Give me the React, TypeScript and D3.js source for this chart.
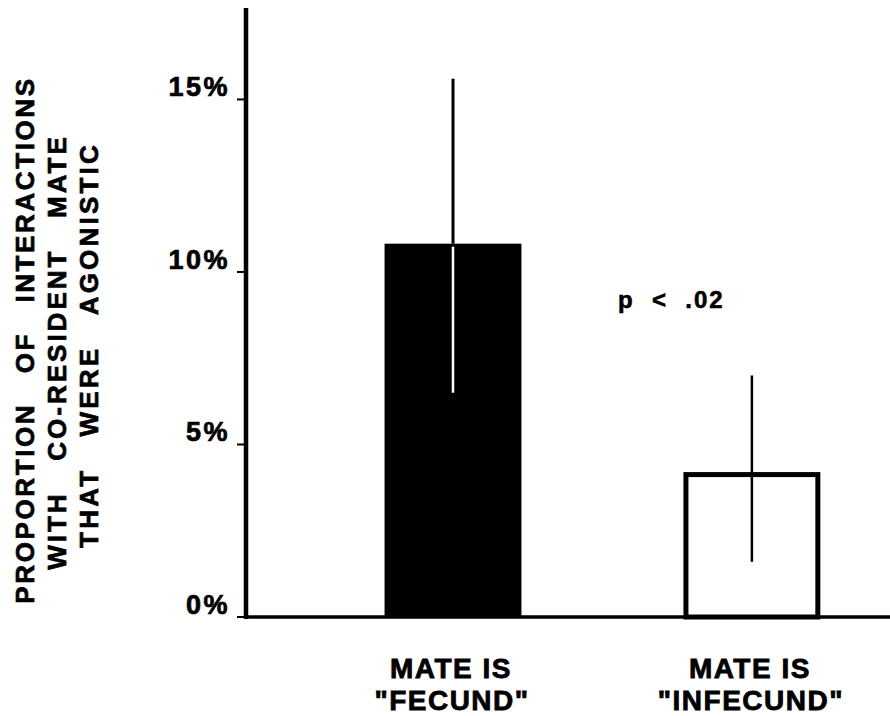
import * as d3 from 'd3';
import React from 'react';

const categories = ['fecund', 'infecund'];
const values = [10.82, 4.2];
const errHigh = [15.6, 7.0];
const errLow = [6.5, 1.6];
const labelTop = ['MATE IS', 'MATE IS'];
const labelBottom = ['"FECUND"', '"INFECUND"'];
const yTicks = [0, 5, 10, 15];
const yTitle = ['PROPORTION   OF   INTERACTIONS', 'WITH   CO-RESIDENT   MATE', 'THAT   WERE   AGONISTIC'];
const note = 'p  <  .02';

const W = 890;
const H = 716;
const font = '"Liberation Sans", Arial, Helvetica, sans-serif';

export default function App() {
    const y = d3.scaleLinear().domain([0, 17.65]).range([617, 8]);
    const x = d3.scaleBand()
        .domain(categories)
        .range([245, 890])
        .paddingInner(0.542)
        .paddingOuter(0.35)
        .align(0.667);
    const bw = x.bandwidth();
    const axisX = 246;
    // small shifts so the three title lines sit like the original
    const titleCy = [340, 352, 345];
    const titleLs = [2.6, 3, 3.2];

    return (
        <svg width={W} height={H} style={{ position: 'absolute', left: 0, top: 0, background: '#fff' }}
            fontFamily={font} fontWeight="bold" stroke="#000" strokeWidth={0}>
            {/* y title */}
            {yTitle.map((t, i) => (
                <text key={t} transform={`translate(${34 + i * 32},${titleCy[i]}) rotate(-90)`}
                    textAnchor="middle" fontSize={26} letterSpacing={titleLs[i]} strokeWidth={0.7}
                    style={{ whiteSpace: 'pre' }}>{t}</text>
            ))}

            {/* y ticks */}
            {yTicks.map(t => (
                <g key={t}>
                    <line x1={axisX - 9} x2={axisX} y1={y(t)} y2={y(t)} stroke="#000" strokeWidth={2} />
                    <text x={axisX - 16} y={y(t) - 3} textAnchor="end" fontSize={27} letterSpacing={2.5}
                        strokeWidth={0.7}>{t}%</text>
                </g>
            ))}

            {/* bars */}
            {categories.map((c, i) => {
                const x0 = x(c) as number;
                const filled = i === 0;
                return (
                    <rect key={c}
                        x={filled ? x0 : x0 + 2.5}
                        y={filled ? y(values[i]) : y(values[i]) + 2.5}
                        width={filled ? bw : bw - 5}
                        height={filled ? y(0) - y(values[i]) : y(0) - y(values[i]) - 2.5}
                        fill={filled ? '#000' : '#fff'}
                        stroke="#000" strokeWidth={filled ? 0 : 5} />
                );
            })}

            {/* error bars */}
            {categories.map((c, i) => {
                const cx = (x(c) as number) + bw / 2;
                const filled = i === 0;
                if (filled) {
                    return (
                        <g key={c}>
                            <line x1={cx} x2={cx} y1={y(errHigh[i])} y2={y(values[i])} stroke="#000" strokeWidth={3} />
                            <line x1={cx} x2={cx} y1={y(values[i]) + 3} y2={y(errLow[i])} stroke="#fff" strokeWidth={2.5} />
                        </g>
                    );
                }
                return (
                    <line key={c} x1={cx} x2={cx} y1={y(errHigh[i])} y2={y(errLow[i])} stroke="#000" strokeWidth={2.5} />
                );
            })}

            {/* axes */}
            <line x1={axisX} x2={axisX} y1={y.range()[1]} y2={y(0) + 2} stroke="#000" strokeWidth={4.5} />
            <line x1={axisX - 2} x2={W} y1={y(0)} y2={y(0)} stroke="#000" strokeWidth={3.5} />

            {/* category labels */}
            {categories.map((c, i) => {
                const cx = (x(c) as number) + bw / 2;
                return (
                    <g key={c} fontSize={28} textAnchor="middle" letterSpacing={1.5} strokeWidth={0.8}>
                        <text x={cx - 2} y={678}>{labelTop[i]}</text>
                        <text x={cx - 1} y={710}>{labelBottom[i]}</text>
                    </g>
                );
            })}

            <text x={618} y={308} fontSize={24} letterSpacing={2} strokeWidth={0.6}
                style={{ whiteSpace: 'pre' }}>{note}</text>
        </svg>
    );
}
